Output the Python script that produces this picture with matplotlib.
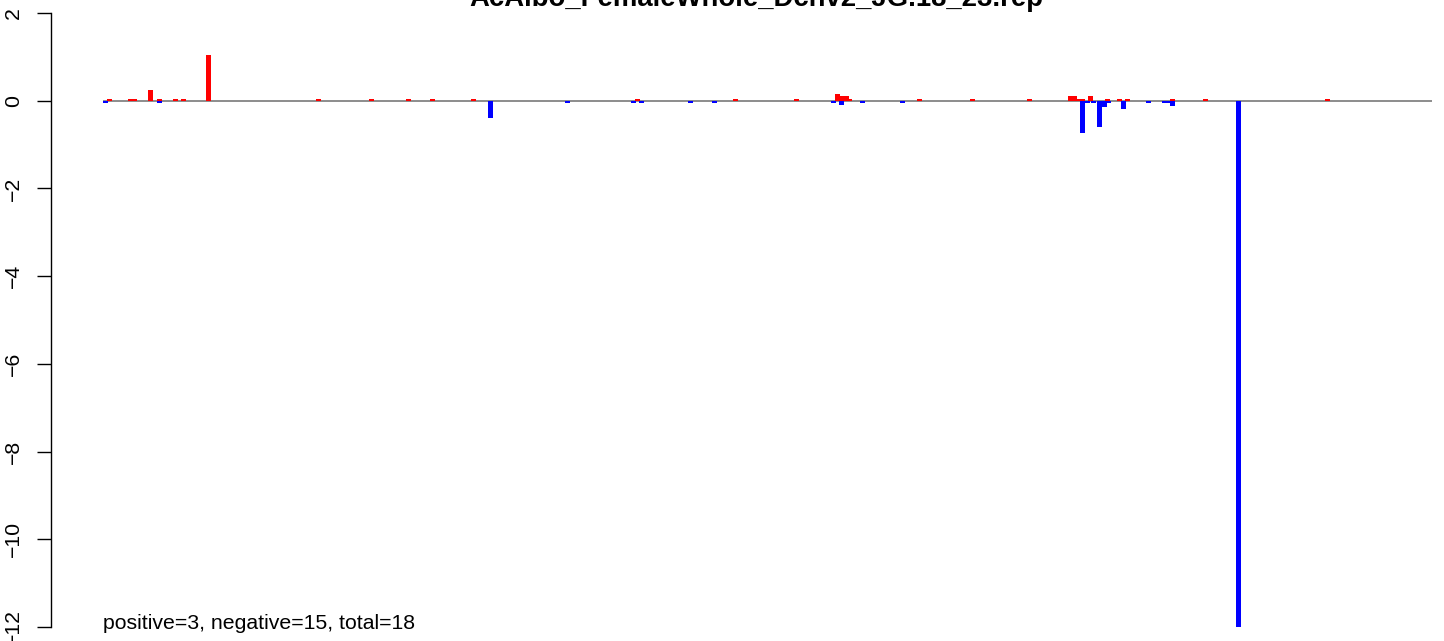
import matplotlib
matplotlib.use("Agg")
import matplotlib.pyplot as plt

plt.rcParams['font.family'] = ['Liberation Sans', 'DejaVu Sans']

title = "AcAlbo_FemaleWhole_Dchv2_JG.18_23.rep"
note = "positive=3, negative=15, total=18"

# position along the region (arbitrary units) and values
neg_pos = [0, 54, 385, 462, 528, 536, 585, 609, 728, 736, 757, 797,
           977, 982, 988, 994, 999, 1003, 1018, 1043, 1059, 1063, 1067, 1133]
neg_val = [-0.06, -0.06, -0.40, -0.06, -0.06, -0.06, -0.06, -0.06, -0.06, -0.10, -0.06, -0.06,
           -0.74, -0.06, -0.06, -0.60, -0.145, -0.06, -0.19, -0.06, -0.06, -0.06, -0.12, -12.0]
pos_pos = [4, 25, 29, 45, 54, 70, 78, 103, 213, 266, 303, 327, 368,
           532, 630, 691, 732, 737, 741, 744, 814, 867, 924,
           965, 969, 974, 977, 985, 1002, 1014, 1022, 1067, 1100, 1222]
pos_val = [0.05, 0.05, 0.05, 0.24, 0.05, 0.05, 0.05, 1.04, 0.05, 0.05, 0.05, 0.05, 0.05,
           0.05, 0.05, 0.05, 0.145, 0.10, 0.10, 0.05, 0.05, 0.05, 0.05,
           0.10, 0.10, 0.05, 0.05, 0.10, 0.05, 0.05, 0.05, 0.05, 0.05, 0.05]
track_end = 1329

fig = plt.figure(figsize=(14.44, 6.41), dpi=100)
ax = fig.add_axes([51/1444, 1 - 627/641, 1 - 51/1444, (627 - 13)/641])

ax.hlines(-0.01, 0, track_end, color='#6e6e6e', linewidth=1.1, zorder=1)
ax.bar(neg_pos, neg_val, width=5, align='edge', color='#0000FF', linewidth=0, clip_on=False, zorder=2)
ax.bar(pos_pos, pos_val, width=5, align='edge', color='#FF0000', linewidth=0, clip_on=False, zorder=2)

ax.set_xlim(-52, 1341)
ax.set_ylim(-12, 2)
ax.set_yticks([2, 0, -2, -4, -6, -8, -10, -12])
ax.set_yticklabels(['2', '0', '\u22122', '\u22124', '\u22126', '\u22128', '\u221210', '\u221212'],
                   rotation=90, va='center', fontsize=15.3)
ax.tick_params(axis='y', length=10, width=1, pad=10)
ax.set_xticks([])
for s in ['top', 'right', 'bottom']:
    ax.spines[s].set_visible(False)
ax.spines['left'].set_linewidth(1)

ax.text(0, -12.05, note, fontsize=15.3, ha='left', va='baseline')
fig.text(756/1444, 1 - 6/641, title, fontsize=19.8, fontweight='bold', ha='center', va='baseline')

fig.savefig("out.png", dpi=100)
